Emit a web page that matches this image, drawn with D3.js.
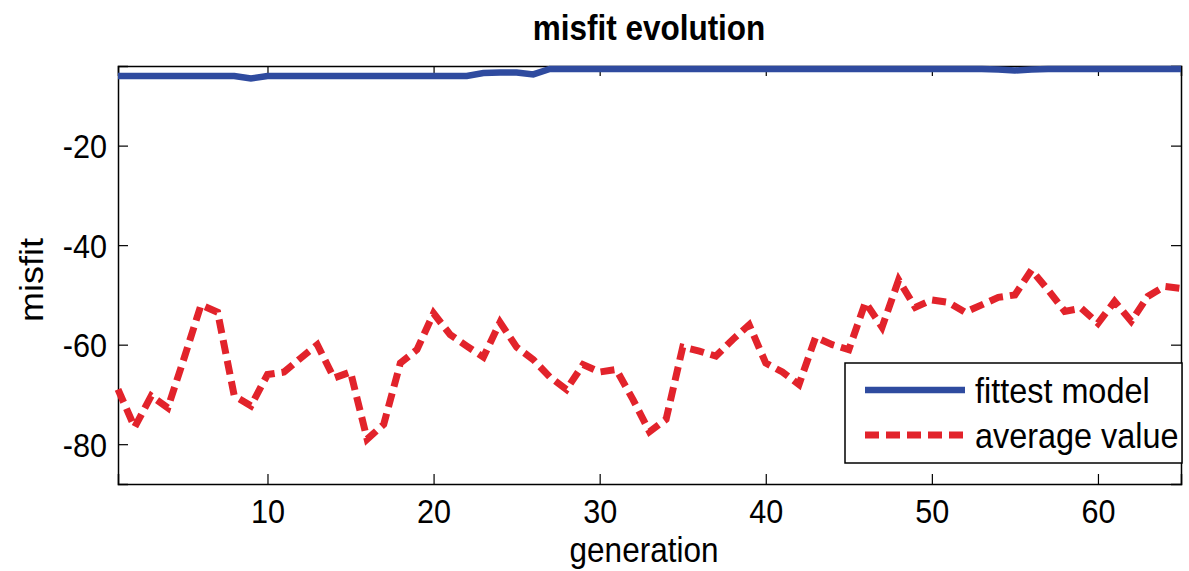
<!DOCTYPE html>
<html>
<head>
<meta charset="utf-8">
<script src="https://cdn.jsdelivr.net/npm/d3@7"></script>
<style>
  body { margin: 0; background: #fff; }
  text { font-family: "Liberation Sans", Arial, sans-serif; fill: #000; }
</style>
</head>
<body>
<div id="chart"></div>
<script>
// generations 1..65
var generations = d3.range(1, 66);

// fittest model misfit, per generation
var fittest = [
  -6.0, -6.0, -6.0, -6.0, -6.0, -6.0, -6.0, -6.0, -6.5, -6.0,
  -6.0, -6.0, -6.0, -6.0, -6.0, -6.0, -6.0, -6.0, -6.0, -6.0,
  -6.0, -6.0, -5.4, -5.3, -5.3, -5.7, -4.6, -4.6, -4.6, -4.6,
  -4.6, -4.6, -4.6, -4.6, -4.6, -4.6, -4.6, -4.6, -4.6, -4.6,
  -4.6, -4.6, -4.6, -4.6, -4.6, -4.6, -4.6, -4.6, -4.6, -4.6,
  -4.6, -4.6, -4.6, -4.7, -4.9, -4.7, -4.6, -4.6, -4.6, -4.6,
  -4.6, -4.6, -4.6, -4.6, -4.6
];

// average misfit, per generation
var average = [
  -69.0, -76.6, -70.3, -72.7, -62.5, -52.0, -53.5, -70.3, -72.3, -66.0,
  -65.5, -62.7, -60.0, -66.7, -65.5, -79.0, -76.0, -63.7, -61.0, -53.7,
  -58.0, -60.3, -62.5, -55.5, -60.5, -63.0, -66.5, -69.0, -64.0, -65.5,
  -65.0, -71.0, -77.5, -75.0, -60.5, -61.3, -62.3, -59.0, -56.0, -63.7,
  -65.5, -68.0, -58.5, -60.0, -61.0, -51.5, -56.5, -47.0, -52.5, -51.0,
  -51.5, -53.5, -52.0, -50.5, -50.0, -45.0, -49.0, -53.3, -52.7, -55.7,
  -51.3, -55.3, -50.3, -48.3, -48.7
];

var xTicks = [10, 20, 30, 40, 50, 60];
var yTicks = [-80, -60, -40, -20];
var seriesNames = ["fittest model", "average value"];

var W = 1189, H = 571;
var margin = {top: 66, right: 8, bottom: 87, left: 118},
    width = W - margin.left - margin.right,
    height = H - margin.top - margin.bottom;

var blue = "#2f4b9f", red = "#e2232b";
var sx = 0.9; // the picture's text is a bit narrow for its height

var svg = d3.select("#chart").append("svg")
    .attr("width", W)
    .attr("height", H);

var g = svg.append("g")
    .attr("transform", "translate(" + margin.left + "," + margin.top + ")");

var x = d3.scaleLinear().domain([1, 65]).range([0, width]);
var y = d3.scaleLinear().domain([-88, -4]).range([height, 0]);

var fmt = function(d) { return String(d); };  // plain hyphen minus

// axes, ticks pointing inwards like matlab
g.append("g")
    .attr("transform", "translate(0," + height + ")")
    .call(d3.axisBottom(x).tickValues(xTicks).tickSize(-10).tickPadding(15).tickFormat(fmt));
g.append("g")
    .call(d3.axisTop(x).tickValues(xTicks).tickSize(-10).tickFormat(""));
var yAxis = g.append("g")
    .call(d3.axisLeft(y).tickValues(yTicks).tickSize(-10).tickPadding(11).tickFormat(fmt));
g.append("g")
    .attr("transform", "translate(" + width + ",0)")
    .call(d3.axisRight(y).tickValues(yTicks).tickSize(-10).tickFormat(""));

g.selectAll(".domain").attr("stroke", "#000").attr("stroke-width", 1.5);
g.selectAll(".tick line").attr("stroke", "#000").attr("stroke-width", 1.2);
g.selectAll(".tick text")
    .style("font-size", "34px").attr("fill", "#000")
    .attr("transform", "scale(" + sx + ",1)");
yAxis.selectAll(".tick text")
    .attr("x", -11 / sx)
    .attr("dy", "0.36em");

// lines
var line = d3.line()
    .x(function(d, i) { return x(generations[i]); })
    .y(function(d) { return y(d); });

g.append("path")
    .datum(average)
    .attr("fill", "none")
    .attr("stroke", red)
    .attr("stroke-width", 7)
    .attr("stroke-dasharray", "14,7")
    .attr("d", line);

g.append("path")
    .datum(fittest)
    .attr("fill", "none")
    .attr("stroke", blue)
    .attr("stroke-width", 6.5)
    .attr("d", line);

// title and labels
svg.append("text")
    .attr("transform", "translate(649,40) scale(" + sx + ",1)")
    .attr("text-anchor", "middle")
    .style("font-size", "35px").style("font-weight", "bold")
    .text("misfit evolution");

svg.append("text")
    .attr("transform", "translate(644,562) scale(" + sx + ",1)")
    .attr("text-anchor", "middle")
    .style("font-size", "35px")
    .text("generation");

svg.append("text")
    .attr("transform", "translate(43,280) rotate(-90) scale(1," + sx + ")")
    .attr("text-anchor", "middle")
    .style("font-size", "36px")
    .text("misfit");

// legend
var lg = svg.append("g").attr("transform", "translate(845,363)");
lg.append("rect")
    .attr("width", 337).attr("height", 100)
    .attr("fill", "#fff").attr("stroke", "#000").attr("stroke-width", 1.5);

var rows = [
  {name: seriesNames[0], color: blue, dash: null, w: 6.5},
  {name: seriesNames[1], color: red, dash: "14,7", w: 7}
];
rows.forEach(function(r, i) {
  var yy = 27 + i * 45;
  lg.append("line")
      .attr("x1", 20).attr("x2", 120)
      .attr("y1", yy).attr("y2", yy)
      .attr("stroke", r.color)
      .attr("stroke-width", r.w)
      .attr("stroke-dasharray", r.dash);
  lg.append("text")
      .attr("transform", "translate(130," + (yy + 13) + ") scale(" + sx + ",1)")
      .style("font-size", "36px")
      .text(r.name);
});
</script>
</body>
</html>
